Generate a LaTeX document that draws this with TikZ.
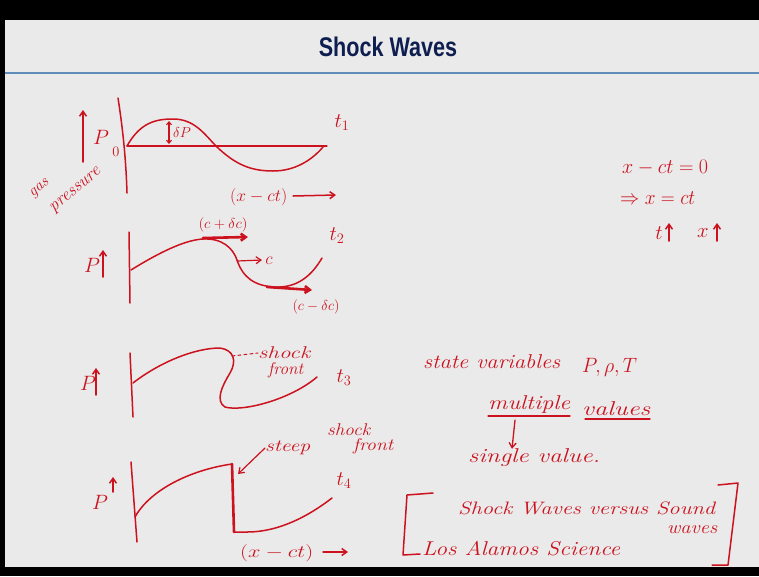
\documentclass[tikz,border=0pt]{standalone}
\usepackage{fontspec}
\usepackage{graphicx}
\newfontfamily\titlefont{Liberation Sans}
\usetikzlibrary{arrows.meta}
\definecolor{pen}{RGB}{204,18,30}
\definecolor{bg}{RGB}{234,234,234}
\definecolor{rulecol}{RGB}{95,140,185}
\definecolor{navy}{RGB}{15,30,80}
\newcommand\fitw[2]{\resizebox{#1}{\height}{#2}}
\begin{document}
\begin{tikzpicture}[x=1pt,y=-1pt,
  ink/.style={draw=pen,line width=1.5pt,line cap=round,line join=round},
  thick ink/.style={draw=pen,line width=2.6pt,line cap=round},
  arr/.style={-{Straight Barb[length=5pt,width=7pt]}},
  hand/.style={text=pen,font=\itshape\fontsize{#1}{#1}\selectfont,inner sep=0pt},
  hand/.default=20,
  mth/.style={text=pen,font=\fontsize{#1}{#1}\selectfont,inner sep=0pt},
  mth/.default=20]
\useasboundingbox (0,0) rectangle (759,576);
% background
\fill[black] (0,0) rectangle (759,576);
\fill[bg] (5,20) rectangle (759,567);
\fill[rulecol] (5,71.5) rectangle (759,74);
\node[text=navy,font=\titlefont\bfseries\fontsize{27}{27}\selectfont,inner sep=0pt] (title) at (388,47) {\scalebox{0.8}[1]{Shock Waves}};

% ---------- graph t1 ----------
\draw[ink,arr] (83,162) -- (83,110);
\node[mth=22] (p1) at (101,137) {$P$};
\node[mth=15] (zero) at (116,152) {$0$};
\draw[ink] (118,98) .. controls (123,130) and (126,160) .. (127,193);
\draw[ink,line width=1.2pt] (127,146) -- (327,146);
\draw[ink] (127,146) .. controls (140,123) and (155,119) .. (173,119)
  .. controls (195,119) and (205,135) .. (217,147)
  .. controls (235,164) and (250,171) .. (273,171)
  .. controls (295,171) and (312,160) .. (323,147);
\draw[ink,line width=1.1pt,{Straight Barb[length=3pt,width=5pt]}-{Straight Barb[length=3pt,width=5pt]}] (169,121) -- (169,144);
\node[mth=14] (dp) at (182,132) {$\delta P$};
\node[mth=20] (t1) at (342,123) {$t_1$};
\node[hand=16,rotate=40] (gas) at (40,189) {gas};
\node[hand=18,rotate=40] (pres) at (76,191) {pressure};
\node[mth=18,anchor=west] (xct1) at (230,197) {\fitw{57pt}{$(x-ct)$}};
\coordinate (a1s) at (293,196);
\coordinate (a1e) at (336,195);
\draw[ink,arr] (a1s) -- (a1e);

% ---------- graph t2 ----------
\node[mth=20] (p2) at (92,265) {$P$};
\draw[ink,arr] (103,277) -- (103,250);
\draw[ink] (129,232) -- (130,303);
\draw[ink] (131,270) .. controls (160,252) and (185,240) .. (203,239)
  .. controls (222,238) and (233,248) .. (237,260)
  .. controls (243,278) and (255,286) .. (275,287)
  .. controls (298,288) and (312,275) .. (322,258);
\draw[thick ink,arr] (203,238) -- (248,237);
\node[mth=15] (cp) at (223,225) {\fitw{49pt}{$(c+\delta c)$}};
\draw[ink,line width=1.2pt,arr] (237,261) -- (262,260);
\node[mth=18] (c) at (269,261) {$c$};
\draw[thick ink,arr] (267,287) -- (312,290);
\node[mth=15] (cm) at (316,307) {\fitw{47pt}{$(c-\delta c)$}};
\node[mth=20] (t2) at (337,236) {$t_2$};

% ---------- graph t3 ----------
\node[mth=20] (p3) at (88,383) {$P$};
\draw[ink,arr] (96,395) -- (96,368);
\draw[ink] (130,353) -- (133,417);
\draw[ink] (133,383) .. controls (160,362) and (195,348) .. (220,348)
  .. controls (234,350) and (237,361) .. (230,373)
  .. controls (222,386) and (215,401) .. (225,407)
  .. controls (242,412) and (290,400) .. (317,377);
\node[hand=17,anchor=west] (sh3) at (258,353) {\fitw{52pt}{shock}};
\node[hand=17,anchor=west] (fr3) at (268,370) {\fitw{35pt}{front}};
\draw[ink,line width=1pt,dashed] (232,356) -- (sh3.west);
\node[mth=20] (t3) at (344,378) {$t_3$};

% ---------- graph t4 ----------
\node[mth=20] (p4) at (100,502) {$P$};
\draw[ink,arr] (113,492) -- (113,477);
\draw[ink] (131,462) -- (137,542);
\draw[ink] (135,517) .. controls (150,490) and (190,470) .. (232,464);
\draw[thick ink] (232,464) -- (234,532);
\draw[ink] (234,532) -- (247,532) .. controls (280,532) and (310,515) .. (332,498);
\node[hand=17,anchor=west] (steep) at (265,448) {\fitw{45pt}{steep}};
\node[hand=17,anchor=west] (sh4) at (327,430) {\fitw{43pt}{shock}};
\node[hand=17,anchor=west] (fr4) at (353,446) {\fitw{40pt}{front}};
\draw[ink,line width=1.2pt,arr] (steep.west) -- (238,474);
\node[mth=20] (t4) at (344,481) {$t_4$};
\node[mth=18,anchor=west] (xct4) at (240,553) {\fitw{73pt}{$(x-ct)$}};
\coordinate (a4s) at (323,552);
\coordinate (a4e) at (348,552);
\draw[ink,arr] (a4s) -- (a4e);

% ---------- right notes ----------
\node[mth=20,anchor=west] (eq1) at (622,168) {\fitw{86pt}{$x-ct=0$}};
\node[mth=20,anchor=west] (eq2) at (620,198) {\fitw{75pt}{$\Rightarrow x=ct$}};
\node[mth=20] (tt) at (659,233) {$t$};
\draw[ink,arr] (669,241) -- (669,223);
\node[mth=20] (xx) at (703,233) {$x$};
\draw[ink,arr] (717,241) -- (717,223);

\node[hand=20,anchor=west] (sv) at (423,362) {\fitw{137pt}{state variables}};
\node[mth=20,anchor=west] (prt) at (582,367) {\fitw{55pt}{$P,\rho,T$}};
\node[hand=20,anchor=west] (mult) at (488,404) {\fitw{82pt}{multiple}};
\node[hand=20,anchor=west] (vals) at (582,409) {\fitw{68pt}{values}};
\draw[ink,line width=1.3pt] (488,416) -- (570,416);
\draw[ink,line width=1.3pt] (585,419) -- (650,419);
\node[hand=20,anchor=west] (single) at (468,458) {\fitw{132pt}{single value.}};
\draw[ink,line width=1.3pt,arr] (515,420) -- (single.north -| 512,0);

% ---------- reference bracket ----------
\draw[ink] (433,493) -- (407,495) -- (403,555) -- (420,554);
\draw[ink] (718,485) -- (738,483) -- (728,565) -- (712,565);
\node[hand=18,anchor=west] (swv) at (458,508) {\fitw{257pt}{Shock Waves versus Sound}};
\node[hand=18,anchor=west] (wv) at (667,530) {\fitw{50pt}{waves}};
\node[hand=20,anchor=west] (las) at (422,549) {\fitw{198pt}{Los Alamos Science}};
\end{tikzpicture}
\end{document}
